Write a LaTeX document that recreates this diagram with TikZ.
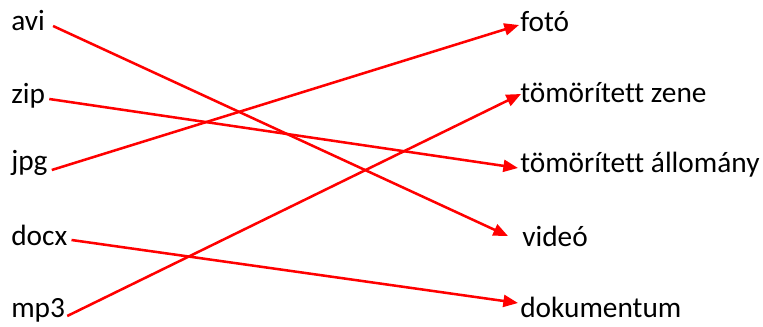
\documentclass[tikz,border=0pt]{standalone}
\usepackage{fontspec}
\setmainfont{Carlito}[Ligatures=NoCommon]
\usetikzlibrary{arrows.meta}
\begin{document}
\begin{tikzpicture}[x=0.75pt,y=-0.75pt,
  lbl/.style={inner sep=0pt,font=\fontsize{22}{26}\selectfont},
  conn/.style={red,line width=1.9pt,-{Triangle[length=11pt,width=9pt]}}]
\useasboundingbox (0,0) rectangle (763,327);
\node[lbl,anchor=base west] (avi) at (11,31) {avi};
\node[lbl,anchor=base west] (zip) at (11,104) {zip};
\node[lbl,anchor=base west] (jpg) at (11,171) {jpg};
\node[lbl,anchor=base west] (docx) at (11,246) {docx};
\node[lbl,anchor=base west] (mp3) at (11,317) {mp3};
\node[lbl,anchor=base west] (foto) at (520,32) {fotó};
\node[lbl,anchor=base west] (zene) at (520,103) {tömörített zene};
\node[lbl,anchor=base west] (allomany) at (520,173) {tömörített állomány};
\node[lbl,anchor=base west] (video) at (522,247) {videó};
\node[lbl,anchor=base west] (dok) at (520,317) {dokumentum};
\draw[conn] ([shift={(8,-5)}]avi.base east) -- ([shift={(-14,-11)}]video.base west);
\draw[conn] ([shift={(4,-5)}]zip.base east) -- ([shift={(-2,-5)}]allomany.base west);
\draw[conn] ([shift={(4,-1)}]jpg.base east) -- ([shift={(-1,-7)}]foto.base west);
\draw[conn] ([shift={(4,-6)}]docx.base east) -- ([shift={(-2,-14)}]dok.base west);
\draw[conn] ([shift={(2,-1)}]mp3.base east) -- ([shift={(1,-9)}]zene.base west);
\end{tikzpicture}
\end{document}
